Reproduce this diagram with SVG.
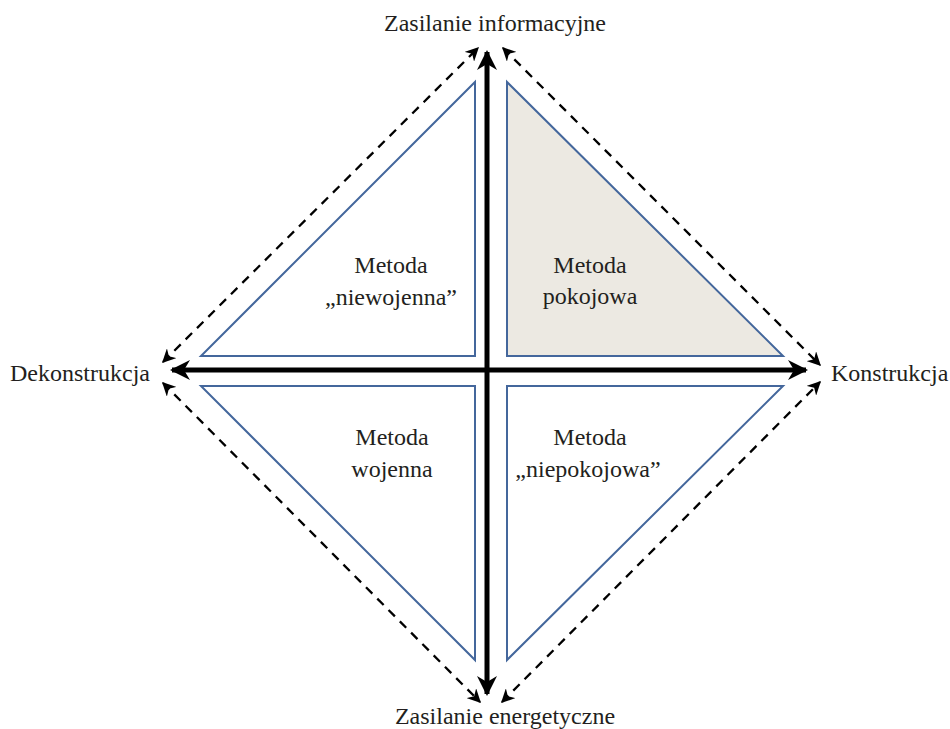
<svg xmlns="http://www.w3.org/2000/svg" width="950" height="729" viewBox="0 0 950 729">
<defs>
<marker id="ah" viewBox="0 0 10 10" refX="9" refY="5" markerWidth="4" markerHeight="4" orient="auto-start-reverse" markerUnits="strokeWidth">
<path d="M0,0 L10,5 L0,10 L3,5 z" fill="#000"/>
</marker>
<marker id="dh" viewBox="0 0 10 10" refX="9" refY="5" markerWidth="6" markerHeight="6" orient="auto-start-reverse" markerUnits="strokeWidth">
<path d="M0,0 L10,5 L0,10 L3,5 z" fill="#000"/>
</marker>
<style>
.tri{fill:#fff;stroke:#44679c;stroke-width:2}
.axis{stroke:#000;stroke-width:5;fill:none}
.dash{stroke:#000;stroke-width:2.3;stroke-dasharray:9,7;fill:none}
text{font-family:"Liberation Serif","Times New Roman",serif;font-size:24px;fill:#231f20}
.c{text-anchor:middle}
</style>
</defs>
<rect width="950" height="729" fill="#fff"/>
<g id="tri-niewojenna">
<polygon class="tri" points="475,82 475,356 201,356"/>
<text class="c" x="391" y="273">Metoda</text>
<text class="c" x="391" y="305">„niewojenna”</text>
</g>
<g id="tri-pokojowa">
<polygon class="tri" points="507,82 507,356 783,356" style="fill:#ece9e2"/>
<text class="c" x="590" y="273">Metoda</text>
<text class="c" x="590" y="304">pokojowa</text>
</g>
<g id="tri-wojenna">
<polygon class="tri" points="201,386 475,386 475,660"/>
<text class="c" x="392" y="445">Metoda</text>
<text class="c" x="392" y="477">wojenna</text>
</g>
<g id="tri-niepokojowa">
<polygon class="tri" points="507,386 783,386 507,660"/>
<text class="c" x="590" y="445">Metoda</text>
<text class="c" x="588" y="477">„niepokojowa”</text>
</g>
<g id="connectors">
<line class="axis" x1="487" y1="694" x2="487" y2="52" marker-start="url(#ah)" marker-end="url(#ah)"/>
<line class="axis" x1="172" y1="370" x2="806" y2="370" marker-start="url(#ah)" marker-end="url(#ah)"/>
<line class="dash" x1="163" y1="362" x2="478" y2="48" marker-start="url(#dh)" marker-end="url(#dh)"/>
<line class="dash" x1="503" y1="48" x2="820" y2="365" marker-start="url(#dh)" marker-end="url(#dh)"/>
<line class="dash" x1="163" y1="383" x2="480" y2="702" marker-start="url(#dh)" marker-end="url(#dh)"/>
<line class="dash" x1="502" y1="702" x2="820" y2="382" marker-start="url(#dh)" marker-end="url(#dh)"/>
</g>
<g id="labels">
<text class="c" x="495" y="31">Zasilanie informacyjne</text>
<text class="c" x="505" y="724">Zasilanie energetyczne</text>
<text x="10" y="381">Dekonstrukcja</text>
<text x="831" y="381">Konstrukcja</text>
</g>
</svg>
